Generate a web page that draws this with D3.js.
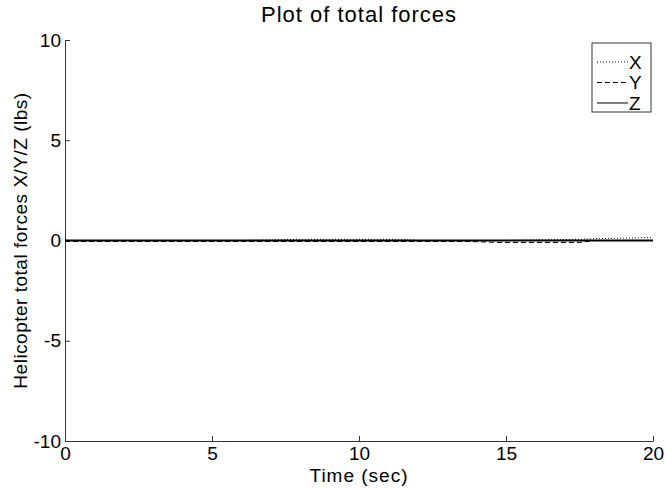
<!DOCTYPE html>
<html lang="en">
<head>
  <meta charset="utf-8">
  <title>Plot of total forces</title>
  <script src="https://d3js.org/d3.v7.min.js"></script>
  <style type="text/css">
    body { margin: 0; background: #fff; }
    text { font-family: "Liberation Sans", Arial, sans-serif; fill: #000; }
  </style>
</head>
<body>
  <script type="text/javascript">

// values (lbs), all series stay very close to zero
const timeSec = [0, 2, 4, 6, 8, 10, 11.5, 12, 13.8, 14.8, 16, 17.5, 18, 19, 20];
const forceX  = [0, 0, 0, 0, 0.06, 0.06, 0.06, 0, 0, 0, 0.03, 0.06, 0.09, 0.12, 0.15];
const forceY  = [-0.05, -0.05, -0.05, -0.05, -0.05, -0.05, -0.05, -0.05, -0.05, -0.1, -0.1, -0.1, 0, 0, 0];
const forceZ  = [0, 0, 0, 0, 0, 0, 0, 0, 0, 0, 0, 0, 0, 0, 0];

const seriesNames = ["X", "Y", "Z"];
const xTicks = [0, 5, 10, 15, 20];
const yTicks = [-10, -5, 0, 5, 10];

const svgWidth = 667;
const svgHeight = 491;
const plotLeft = 65, plotRight = 653, plotTop = 40, plotBottom = 441;

const svg = d3.select("body")
    .append("svg")
    .attr("width", svgWidth)
    .attr("height", svgHeight);

const xScale = d3.scaleLinear()
    .domain([0, 20])
    .range([plotLeft, plotRight]);

const yScale = d3.scaleLinear()
    .domain([-10, 10])
    .range([plotBottom, plotTop]);

// axes, ticks pointing inward like matlab
const xAxis = d3.axisBottom(xScale)
    .tickValues(xTicks)
    .tickFormat(d => String(d))
    .tickSizeInner(-5)
    .tickSizeOuter(0)
    .tickPadding(6);

const gx = svg.append("g")
    .attr("transform", `translate(0, ${plotBottom})`)
    .call(xAxis);

const yAxis = d3.axisLeft(yScale)
    .tickValues(yTicks)
    .tickFormat(d => String(d))
    .tickSizeInner(-5)
    .tickSizeOuter(0)
    .tickPadding(4);

const gy = svg.append("g")
    .attr("transform", `translate(${plotLeft}, 0)`)
    .call(yAxis);

[gx, gy].forEach(g => {
  g.selectAll("path, line").attr("stroke", "#333").attr("stroke-width", 1);
  g.selectAll("text").style("font-size", "19px").style("fill", "#000");
});

// series
const series = [
  { name: seriesNames[0], values: forceX, dash: "1,2" },
  { name: seriesNames[1], values: forceY, dash: "5,3" },
  { name: seriesNames[2], values: forceZ, dash: null }
];

const line = d3.line()
    .x((d, i) => xScale(timeSec[i]))
    .y(d => yScale(d));

series.forEach(s => {
  svg.append("path")
      .datum(s.values)
      .attr("fill", "none")
      .attr("stroke", "#000")
      .attr("stroke-width", s.dash ? 1 : 2)
      .attr("stroke-dasharray", s.dash)
      .attr("d", line);
});

// title and labels
svg.append("text")
    .attr("x", (plotLeft + plotRight) / 2)
    .attr("y", 22)
    .attr("text-anchor", "middle")
    .style("font-size", "22px")
    .style("letter-spacing", "1px")
    .text("Plot of total forces");

svg.append("text")
    .attr("x", (plotLeft + plotRight) / 2)
    .attr("y", 482)
    .attr("text-anchor", "middle")
    .style("font-size", "19px")
    .style("letter-spacing", "1px")
    .text("Time (sec)");

svg.append("text")
    .attr("transform", `translate(27, ${(plotTop + plotBottom) / 2}) rotate(-90)`)
    .attr("text-anchor", "middle")
    .style("font-size", "19px")
    .style("letter-spacing", "0.5px")
    .text("Helicopter total forces X/Y/Z (lbs)");

// legend
const legend = svg.append("g")
    .attr("transform", "translate(592, 43)");

legend.append("rect")
    .attr("width", 59)
    .attr("height", 69)
    .attr("fill", "#fff")
    .attr("stroke", "#333");

series.forEach((s, i) => {
  const yy = 19 + i * 20.5;
  legend.append("line")
      .attr("x1", 5)
      .attr("x2", 36)
      .attr("y1", yy)
      .attr("y2", yy)
      .attr("stroke", "#000")
      .attr("stroke-width", 1)
      .attr("stroke-dasharray", s.dash);
  legend.append("text")
      .attr("x", 37)
      .attr("y", yy)
      .attr("dy", "0.35em")
      .style("font-size", "19px")
      .text(s.name);
});

  </script>
</body>
</html>
